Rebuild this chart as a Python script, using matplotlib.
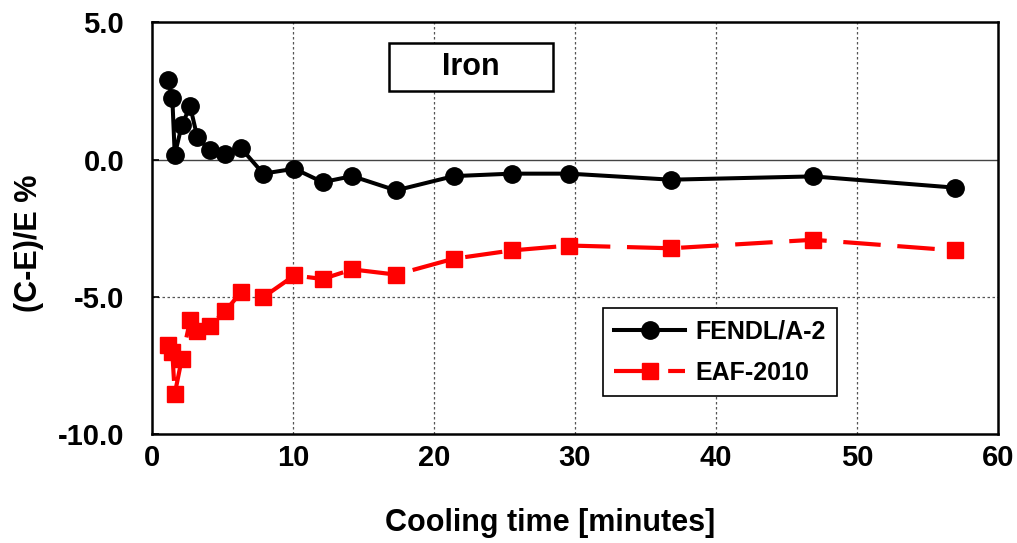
import matplotlib
matplotlib.use('Agg')
import matplotlib.pyplot as plt
from matplotlib.patches import Rectangle

plt.rcParams['font.family'] = ['Liberation Sans', 'DejaVu Sans']
plt.rcParams['font.weight'] = 'bold'

# temps de refroidissement (minutes)
cooling_time = [1.13, 1.44, 1.61, 2.11, 2.70, 3.21, 4.11, 5.18, 6.31, 7.89,
                10.1, 12.1, 14.2, 17.3, 21.4, 25.5, 29.6, 36.8, 46.9, 56.95]

# écarts (C-E)/E en %
fendl = [2.92, 2.23, 0.18, 1.25, 1.95, 0.82, 0.34, 0.19, 0.42, -0.51,
         -0.33, -0.82, -0.60, -1.12, -0.60, -0.51, -0.51, -0.73, -0.61, -1.02]
eaf = [-6.74, -7.02, -8.54, -7.26, -5.86, -6.23, -6.05, -5.53, -4.83, -5.01,
       -4.22, -4.35, -4.00, -4.19, -3.61, -3.31, -3.13, -3.23, -2.92, -3.31]

x_ticks = [0, 10, 20, 30, 40, 50, 60]
y_ticks = [5.0, 0.0, -5.0, -10.0]

fig = plt.figure(figsize=(10.17, 5.43), dpi=100)
ax = fig.add_axes([0.1495, 0.2007, 0.8318, 0.7579])

# grille pointillée
for xv in x_ticks[1:-1]:
    ax.axvline(xv, color='#555555', lw=0.9, ls=(0, (2, 2)), zorder=0)
ax.axhline(-5.0, color='#555555', lw=0.9, ls=(0, (2, 2)), zorder=0)
ax.axhline(0.0, color='#444444', lw=1.0, zorder=1)

ax.plot(cooling_time, fendl, color='black', lw=2.9, marker='o', ms=12.5,
        label='FENDL/A-2', zorder=3)
ax.plot(cooling_time, eaf, color='red', lw=3.0, marker='s', ms=12,
        dashes=(9, 4), label='EAF-2010', zorder=2)

ax.set_xlim(0, 60)
ax.set_ylim(-10, 5)
ax.set_xticks(x_ticks)
ax.set_yticks(y_ticks)
ax.set_xticklabels([str(v) for v in x_ticks], fontsize=21, fontweight='bold')
ax.set_yticklabels(['%.1f' % v for v in y_ticks], fontsize=21, fontweight='bold')
ax.tick_params(axis='x', length=0, pad=7)
ax.tick_params(axis='y', direction='in', length=5, width=1.2, pad=20)

for s in ax.spines.values():
    s.set_linewidth(1.8)
    s.set_color('black')

ax.set_xlabel('Cooling time [minutes]', fontsize=22, fontweight='bold')
ax.set_ylabel('(C-E)/E %', fontsize=22, fontweight='bold')
ax.xaxis.set_label_coords(0.470, -0.180)
ax.yaxis.set_label_coords(-0.128, 0.464)

# cadre du titre
ax.add_patch(Rectangle((0.280, 0.8335), 0.194, 0.1166, transform=ax.transAxes,
                       fc='white', ec='black', lw=1.8, zorder=4))
ax.text(0.377, 0.892, 'Iron', transform=ax.transAxes, fontsize=22,
        fontweight='bold', ha='center', va='center', zorder=5)

leg = ax.legend(loc='upper left', bbox_to_anchor=(0.533, 0.306), borderaxespad=0,
                fontsize=18, frameon=True, fancybox=False, edgecolor='black',
                framealpha=1, handlelength=2.85, handletextpad=0.4,
                borderpad=0.45, labelspacing=0.7)
leg.get_frame().set_linewidth(1.2)

fig.savefig('out.png', dpi=100)
